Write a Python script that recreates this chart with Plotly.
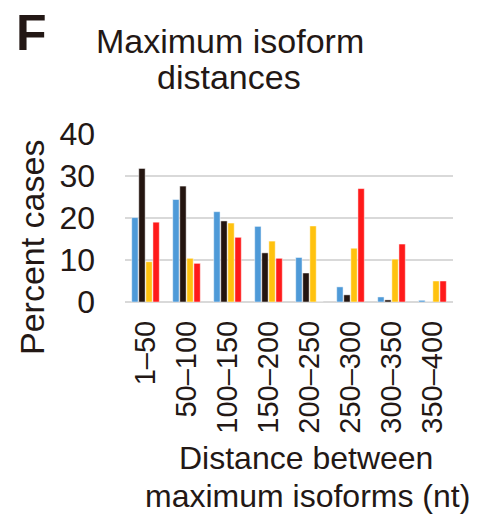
import plotly.graph_objects as go

categories = ["1–50", "50–100", "100–150", "150–200", "200–250", "250–300", "300–350", "350–400"]
series_blue = [20.1, 24.4, 21.5, 18.0, 10.6, 3.6, 1.2, 0.4]
series_black = [31.8, 27.6, 19.3, 11.7, 6.9, 1.7, 0.5, 0.0]
series_yellow = [9.6, 10.4, 18.8, 14.5, 18.1, 12.8, 10.2, 5.0]
series_red = [19.0, 9.2, 15.4, 10.4, 0.0, 27.0, 13.8, 5.0]
y_ticks = [0, 10, 20, 30, 40]

colors = ["#4e9ad8", "#241510", "#ffc20f", "#ff1a1a"]
text_color = "#231815"
font_family = "Liberation Sans, Arial, sans-serif"

fig = go.Figure()
for vals, col in zip([series_blue, series_black, series_yellow, series_red], colors):
    fig.add_trace(go.Bar(
        x=categories, y=vals,
        marker=dict(color=col, line=dict(color="rgba(255,255,255,0.6)", width=0.8)),
        showlegend=False,
    ))

# plot area in pixels: x 125..453, y 134..302
L, R, T, B = 125, 453, 134, 302
W, H = 481, 516

def px(x):
    return (x - L) / (R - L)

def py(y):
    return (B - y) / (B - T)

def label(text, x, y, size, angle=0, anchor="center"):
    return dict(text=text, x=px(x), y=py(y), xanchor=anchor, yanchor="middle",
                textangle=angle, xref="paper", yref="paper", showarrow=False,
                font=dict(size=size, color=text_color))

annotations = [
    label("<b>F</b>", 14, 33, 50, anchor="left"),
    label("Maximum isoform", 230, 41, 34),
    label("distances", 229, 77, 34),
    label("Distance between", 306, 458, 32),
    label("maximum isoforms (nt)", 307, 496, 32),
    label("Percent cases", 32, 248, 34, angle=-90),
]

fig.update_layout(
    width=W, height=H,
    margin=dict(l=L, r=W - R, t=T, b=H - B),
    paper_bgcolor="white", plot_bgcolor="white",
    font=dict(family=font_family, color=text_color),
    barmode="group", bargap=0.31, bargroupgap=0.1,
    annotations=annotations,
    xaxis=dict(
        tickangle=-90, tickfont=dict(size=29, color=text_color),
        showgrid=False, showline=False, ticks="", ticklabelstandoff=12,
    ),
    yaxis=dict(
        range=[0, 40], tickvals=y_ticks, tickfont=dict(size=32, color=text_color),
        showgrid=True, gridcolor="#d9d9d9", gridwidth=2,
        zeroline=True, zerolinecolor="#d9d9d9", zerolinewidth=2,
        showline=False, ticks="", ticklabelstandoff=29,
    ),
)

fig.write_html("out.html")
